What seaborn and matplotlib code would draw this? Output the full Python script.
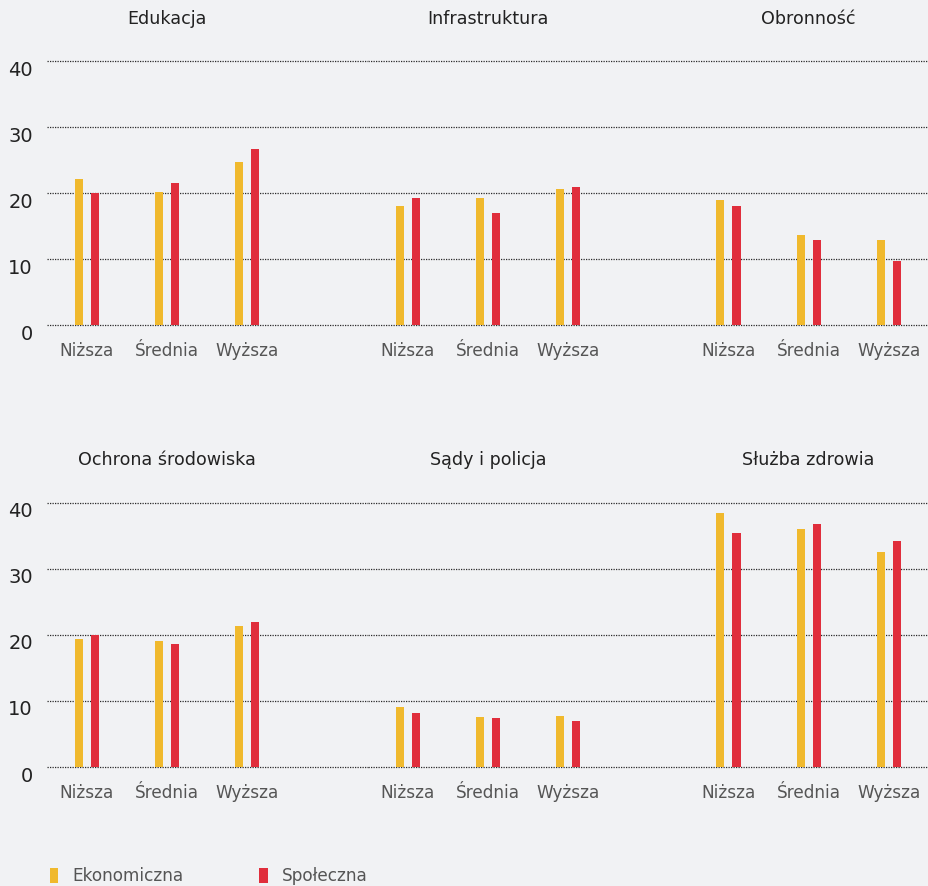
import numpy as np
import pandas as pd
import seaborn as sns
import matplotlib
matplotlib.use("Agg")
import matplotlib.pyplot as plt
from matplotlib.patches import Patch
from matplotlib.transforms import ScaledTranslation

# --- data -------------------------------------------------------------
panels = ["Edukacja", "Infrastruktura", "Obronność",
          "Ochrona środowiska", "Sądy i policja", "Służba zdrowia"]
levels = ["Niższa", "Średnia", "Wyższa"]
series = ["Ekonomiczna", "Społeczna"]

ekonomiczna = {
    "Edukacja":           [22.1, 20.2, 24.7],
    "Infrastruktura":     [18.0, 19.2, 20.6],
    "Obronność":          [19.0, 13.6, 12.9],
    "Ochrona środowiska": [19.3, 19.1, 21.4],
    "Sądy i policja":     [9.1, 7.5, 7.7],
    "Służba zdrowia":     [38.5, 36.0, 32.5],
}
spoleczna = {
    "Edukacja":           [20.0, 21.5, 26.7],
    "Infrastruktura":     [19.2, 17.0, 20.9],
    "Obronność":          [18.1, 12.9, 9.7],
    "Ochrona środowiska": [20.0, 18.6, 22.0],
    "Sądy i policja":     [8.1, 7.4, 6.9],
    "Służba zdrowia":     [35.4, 36.8, 34.2],
}
yticks = [0, 10, 20, 30, 40]

rows = []
for p in panels:
    for lvl, e, s in zip(levels, ekonomiczna[p], spoleczna[p]):
        rows.append((p, lvl, series[0], e))
        rows.append((p, lvl, series[1], s))
df = pd.DataFrame(rows, columns=["obszar", "poziom", "typ", "wartosc"])

# --- style ------------------------------------------------------------
BG = "#F1F2F4"
YELLOW = "#F0B92D"
RED = "#E02E3C"
palette = {series[0]: YELLOW, series[1]: RED}

sns.set_style("white", {"axes.facecolor": BG, "figure.facecolor": BG})
plt.rcParams["font.family"] = ["DejaVu Sans"]

fig = plt.figure(figsize=(9.29, 8.86), dpi=100)
fig.patch.set_facecolor(BG)

W, H = 929.0, 886.0
left = 46.7 / W
row_boxes = [(1 - 325 / H, 1 - 61.3 / H), (1 - 767 / H, 1 - 502.7 / H)]
ratios = [4, 4, 3]
total = sum(ratios)
span = 1.0 - left

label_shift = ScaledTranslation(0, -7 / 100, fig.dpi_scale_trans)

for r, (bottom, top) in enumerate(row_boxes):
    x0 = left
    for c in range(3):
        w = span * ratios[c] / total
        ax = fig.add_axes([x0, bottom, w, top - bottom])
        x0 += w
        name = panels[r * 3 + c]
        sub = df[df["obszar"] == name]
        sns.barplot(data=sub, x="poziom", y="wartosc", hue="typ",
                    order=levels, hue_order=series, palette=palette,
                    width=0.4, gap=0.5, saturation=1, legend=False,
                    linewidth=0, ax=ax)
        ax.set_facecolor(BG)
        ax.set_xlim(-0.5, ratios[c] - 0.5)
        ax.set_ylim(0, 40)
        ax.set_yticks(yticks)
        ax.set_xlabel("")
        ax.set_ylabel("")
        ax.set_axisbelow(True)
        ax.yaxis.grid(True, linestyle=(0, (1, 1)), color="#2a2a2a", linewidth=0.9)
        ax.xaxis.grid(False)
        for gl in ax.get_ygridlines():
            gl.set_clip_on(False)
        for sp in ax.spines.values():
            sp.set_visible(False)
        ax.tick_params(axis="x", length=0, pad=12, labelsize=12.2, labelcolor="#555555")
        ax.tick_params(axis="y", length=0, pad=10, labelsize=14, labelcolor="#222222")
        if c == 0:
            for lab in ax.get_yticklabels():
                lab.set_transform(lab.get_transform() + label_shift)
        else:
            ax.tick_params(axis="y", labelleft=False)
        ax.text(1, 1.16, name, transform=ax.get_xaxis_transform(),
                ha="center", va="center", fontsize=12.6, color="#222222")

handles = [Patch(facecolor=palette[s], edgecolor="none", label=s) for s in series]
fig.legend(handles=handles, loc="center left",
           bbox_to_anchor=(50 / W, 1 - 876 / H), ncol=2, frameon=False,
           handlelength=0.48, handleheight=0.96, handletextpad=0.84,
           columnspacing=4.48, borderpad=0, borderaxespad=0,
           fontsize=12.2, labelcolor="#555555")

fig.savefig("out.png", dpi=100, facecolor=BG)
